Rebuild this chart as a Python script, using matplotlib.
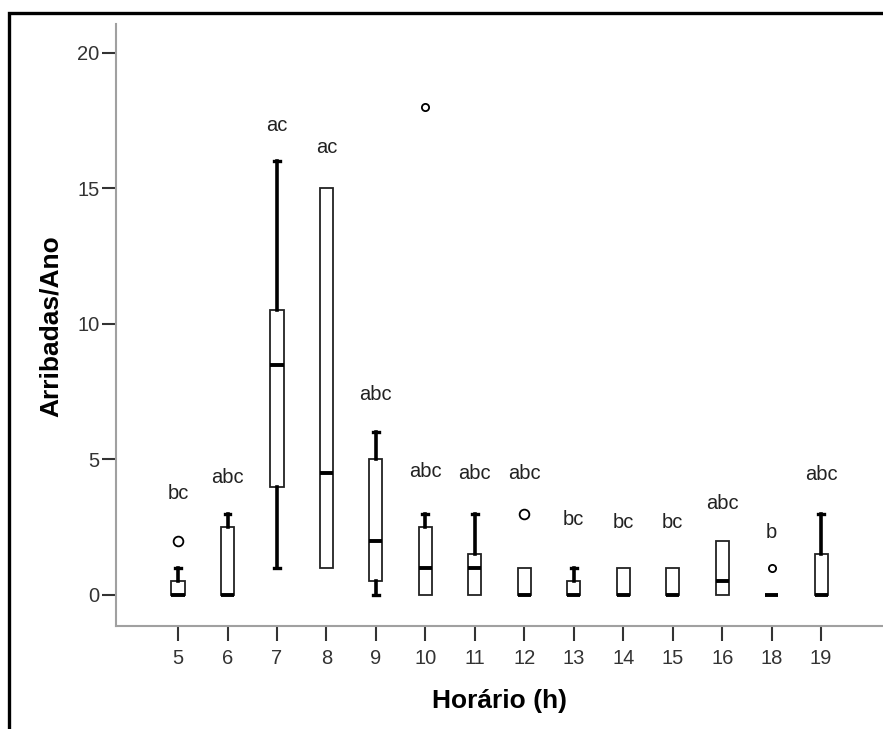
import matplotlib
matplotlib.use('Agg')
import matplotlib.pyplot as plt
from matplotlib import font_manager
from matplotlib.lines import Line2D

# horas e estatisticas de cada caixa
horas = ['5', '6', '7', '8', '9', '10', '11', '12', '13', '14', '15', '16', '18', '19']
q1 = [0, 0, 4, 1, 0.5, 0, 0, 0, 0, 0, 0, 0, 0, 0]
mediana = [0, 0, 8.5, 4.5, 2, 1, 1, 0, 0, 0, 0, 0.5, 0, 0]
q3 = [0.5, 2.5, 10.5, 15, 5, 2.5, 1.5, 1, 0.5, 1, 1, 2, 0, 1.5]
whis_lo = [0, 0, 1, 1, 0, 0, 0, 0, 0, 0, 0, 0, 0, 0]
whis_hi = [1, 3, 16, 15, 6, 3, 3, 1, 1, 1, 1, 2, 0, 3]
outliers = [[2], [], [], [], [], [18], [], [3], [], [], [], [], [1], []]

# letras do teste e altura (centro do texto)
letras = ['bc', 'abc', 'ac', 'ac', 'abc', 'abc', 'abc', 'abc', 'bc', 'bc', 'bc', 'abc', 'b', 'abc']
letras_y = [3.73, 4.35, 17.34, 16.5, 7.4, 4.54, 4.5, 4.5, 2.77, 2.66, 2.66, 3.36, 2.29, 4.46]

nomes = {f.name for f in font_manager.fontManager.ttflist}
if 'Liberation Sans Narrow' in nomes:
    fonte_titulo, tam_titulo = 'Liberation Sans Narrow', 22.5
else:
    fonte_titulo, tam_titulo = 'Liberation Sans', 19

plt.rcParams['font.family'] = ['Liberation Sans', 'DejaVu Sans']

W, H = 883, 729
fig = plt.figure(figsize=(W / 100, H / 100), dpi=100)
ax = fig.add_axes([116 / W, 1 - 626 / H, (W - 116) / W, (626 - 24) / H])

pos = list(range(len(horas)))
stats = []
for i in pos:
    stats.append({'med': mediana[i], 'q1': q1[i], 'q3': q3[i],
                  'whislo': whis_lo[i], 'whishi': whis_hi[i], 'fliers': []})

res = ax.bxp(stats, positions=pos, widths=0.265, patch_artist=True,
             showfliers=False, capwidths=0.12,
             boxprops=dict(facecolor='white', edgecolor='#222222', linewidth=1.3),
             medianprops=dict(color='black', linewidth=2.8, solid_capstyle='butt'),
             whiskerprops=dict(color='black', linewidth=2.6),
             capprops=dict(color='black', linewidth=2.4))

# esconder caps onde o bigode coincide com a caixa
for i in pos:
    if whis_lo[i] == q1[i]:
        res['caps'][2 * i].set_visible(False)
    if whis_hi[i] == q3[i]:
        res['caps'][2 * i + 1].set_visible(False)

tam_out = {0: 7, 7: 7, 5: 5.2, 12: 5.2}
for i in pos:
    for v in outliers[i]:
        ax.plot(i, v, 'o', mfc='none', mec='black', mew=1.3, ms=tam_out.get(i, 6))

for i in pos:
    ax.text(i, letras_y[i], letras[i], ha='center', va='center',
            fontsize=14.5, color='#222222')

ax.set_xlim(-1.254, 14.25)
ax.set_ylim(-1.144, 21.07)
ax.set_yticks([0, 5, 10, 15, 20])
ax.set_xticks(pos)
ax.set_xticklabels(horas)

for s in ['top', 'right']:
    ax.spines[s].set_visible(False)
for s in ['left', 'bottom']:
    ax.spines[s].set_color('#a0a0a0')
    ax.spines[s].set_linewidth(1.5)

ax.tick_params(axis='y', length=10, width=1.5, color='#333333', pad=2,
               labelsize=14.5, labelcolor='#333333')
ax.tick_params(axis='x', length=10.5, width=1.5, color='#333333', pad=6,
               labelsize=14.5, labelcolor='#333333')

fig.text(500 / W, 1 - 708 / H, 'Horário (h)', ha='center', va='baseline',
         fontsize=tam_titulo, fontweight='bold', family=fonte_titulo)
fig.text(51 / W, 1 - 326 / H, 'Arribadas/Ano', ha='center', va='center',
         rotation=90, fontsize=tam_titulo, fontweight='bold', family=fonte_titulo)

# moldura preta do recorte
fig.add_artist(Line2D([9 / W, 9 / W, 1.0], [0.0, 1 - 12.5 / H, 1 - 12.5 / H],
                      transform=fig.transFigure, color='black', linewidth=2.4,
                      solid_joinstyle='miter'))

fig.savefig('out.png', dpi=100)
